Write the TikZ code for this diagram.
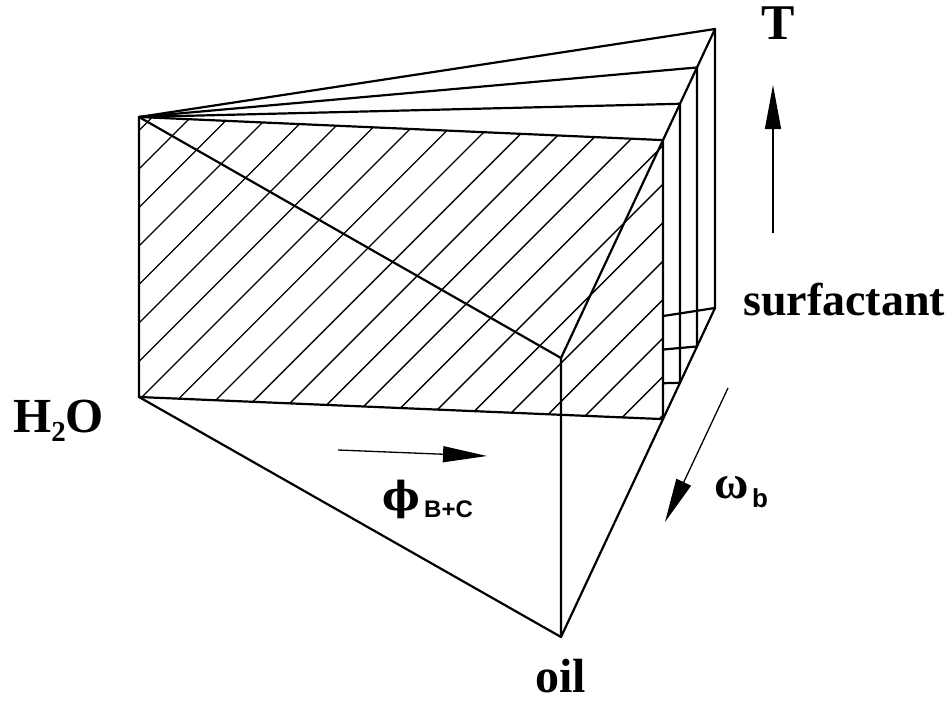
\documentclass[tikz,border=0pt]{standalone}
\usepackage{fontspec}
\setmainfont{Liberation Serif}
\newfontfamily\sansb{Liberation Sans}
\newfontfamily\dvs{DejaVu Serif}
\usetikzlibrary{arrows.meta,calc}
\begin{document}
\begin{tikzpicture}[x=1pt,y=-1pt,
  edge/.style={line width=2.2pt, line join=round, line cap=round},
  hatchline/.style={line width=1.4pt},
  arr/.style={line width=1.3pt, -{Triangle[length=44pt,width=16pt]}},
  lab/.style={inner sep=0pt}]
\useasboundingbox (0,0) rectangle (949,701);
% prism corners
\coordinate (Wt) at (139,117);
\coordinate (Wb) at (139,397);
\coordinate (Ot) at (561,358);
\coordinate (Ob) at (561,637);
\coordinate (St) at (715,29);
\coordinate (Sb) at (715,308);
\coordinate (Rt) at ($(Ot)!0.6623!(St)$);
\coordinate (Rb) at ($(Ob)!0.6623!(Sb)$);
\coordinate (P2t) at ($(Ot)!0.7727!(St)$);
\coordinate (P2b) at ($(Ob)!0.7727!(Sb)$);
\coordinate (P1t) at ($(Ot)!0.8831!(St)$);
\coordinate (P1b) at ($(Ob)!0.8831!(Sb)$);
% hidden bottom edges of sections
\draw[edge] (Wb) -- (Sb);
\draw[edge] (Wb) -- (P1b);
\draw[edge] (Wb) -- (P2b);
% hatched section
\fill[white] (Wt) -- (Rt) -- (Rb) -- (Wb) -- cycle;
\begin{scope}
  \clip (Wt) -- (Rt) -- (Rb) -- (Wb) -- cycle;
  \foreach \k in {0,...,21}
    \draw[hatchline] ({269.5+38.5*\k},0) -- ({269.5+38.5*\k-500},500);
\end{scope}
% edges
\draw[edge] (Wt) -- (Rt) -- (Rb) -- (Wb) -- cycle;
\draw[edge] (Wt) -- (P2t) -- (P2b);
\draw[edge] (Wt) -- (P1t) -- (P1b);
\draw[edge] (Wt) -- (St) -- (Sb);
\draw[edge] (Wt) -- (Ot) -- (Ob);
\draw[edge] (Ot) -- (St);
\draw[edge] (Wb) -- (Ob) -- (Sb);
% arrows
\coordinate (Ta) at (773,233);
\coordinate (Tb) at (773,85);
\draw[arr] (Ta) -- (Tb);
\coordinate (Fa) at (338,450);
\coordinate (Fb) at (487,456);
\draw[arr] (Fa) -- (Fb);
\coordinate (Wa) at (728,388);
\coordinate (Wz) at (665,522);
\draw[arr] (Wa) -- (Wz);
% labels
\node[lab, anchor=base] (lT) at (778,40) {\fontsize{50}{50}\selectfont\bfseries T};
\node[lab, anchor=base west] (lS) at (743,315) {\fontsize{46}{46}\selectfont\bfseries surfactant};
\node[lab, anchor=base west] (lH) at (13,432) {\fontsize{49}{49}\selectfont\bfseries H\raisebox{-9pt}{\fontsize{29}{29}\selectfont 2}O};
\node[lab, anchor=base west] (lO) at (535,692) {\fontsize{48}{48}\selectfont\bfseries oil};
\node[lab, anchor=center] (lF) at (401,499) {\dvs\fontsize{40}{40}\selectfont\bfseries ϕ};
\node[lab, anchor=base west] (lFs) at (424,517) {\sansb\fontsize{24}{24}\selectfont\bfseries B+C};
\node[lab, anchor=center] (lW) at (732,488) {\fontsize{47}{47}\selectfont\bfseries ω};
\node[lab, anchor=base west] (lWs) at (752,507) {\sansb\fontsize{26}{26}\selectfont\bfseries b};
\end{tikzpicture}
\end{document}
